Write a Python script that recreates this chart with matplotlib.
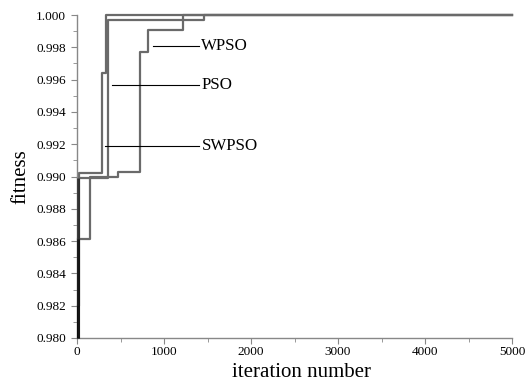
import matplotlib
matplotlib.use("Agg")
import matplotlib.pyplot as plt
from matplotlib.ticker import MultipleLocator, FormatStrFormatter

# step data (iteration, fitness), 'post' steps
swpso_iter = [0, 10, 25, 285, 330, 5000]
swpso_fit = [0.980, 0.982, 0.99024, 0.99639, 1.000, 1.000]

pso_iter = [0, 10, 360, 1463, 5000]
pso_fit = [0.980, 0.98989, 0.99969, 1.000, 1.000]

wpso_iter = [0, 10, 150, 470, 725, 818, 1220, 5000]
wpso_fit = [0.980, 0.98611, 0.99000, 0.99030, 0.99773, 0.99907, 1.000, 1.000]

labels = ["WPSO", "PSO", "SWPSO"]
label_pos = [(875, 0.9981), (400, 0.99566), (320, 0.9919)]
text_x = 1400

plt.rcParams['font.family'] = ['Liberation Serif', 'DejaVu Serif']

fig = plt.figure(figsize=(5.27, 3.82), dpi=100)
ax = fig.add_axes([77/527, 44/382, 435/527, 323/382])

for xs, ys in [(swpso_iter, swpso_fit), (pso_iter, pso_fit), (wpso_iter, wpso_fit)]:
    # initial rise (overlapping, darkens where stacked)
    ax.vlines(xs[1], ys[0], ys[1], color='black', alpha=0.55, lw=2.2, clip_on=False, zorder=3)
    ax.step(xs[1:], ys[1:], where='post', color='#6a6a6a', lw=1.6, clip_on=False, zorder=2)

for lab, (px, py) in zip(labels, label_pos):
    ax.plot([px, text_x], [py, py], color='black', lw=0.8, zorder=4)
    ax.text(text_x + 30, py, lab, fontsize=12.2, va='center', ha='left')

ax.set_xlim(0, 5000)
ax.set_ylim(0.980, 1.000)
ax.xaxis.set_major_locator(MultipleLocator(1000))
ax.xaxis.set_minor_locator(MultipleLocator(500))
ax.yaxis.set_major_locator(MultipleLocator(0.002))
ax.yaxis.set_minor_locator(MultipleLocator(0.001))
ax.yaxis.set_major_formatter(FormatStrFormatter('%.3f'))

for s in ['top', 'right']:
    ax.spines[s].set_visible(False)
for s in ['left', 'bottom']:
    ax.spines[s].set_color('#888888')
    ax.spines[s].set_linewidth(1.0)

ax.tick_params(which='major', direction='out', length=4, color='#888888', labelsize=9.5)
ax.tick_params(axis='y', which='major', pad=4)
ax.tick_params(axis='x', which='major', pad=2)
ax.tick_params(which='minor', direction='out', length=3, color='#888888')

ax.set_xlabel('iteration number', fontsize=15)
ax.xaxis.set_label_coords(0.517, -0.076)
ax.set_ylabel('fitness', fontsize=15, labelpad=4)

fig.savefig('out.png', dpi=100)
